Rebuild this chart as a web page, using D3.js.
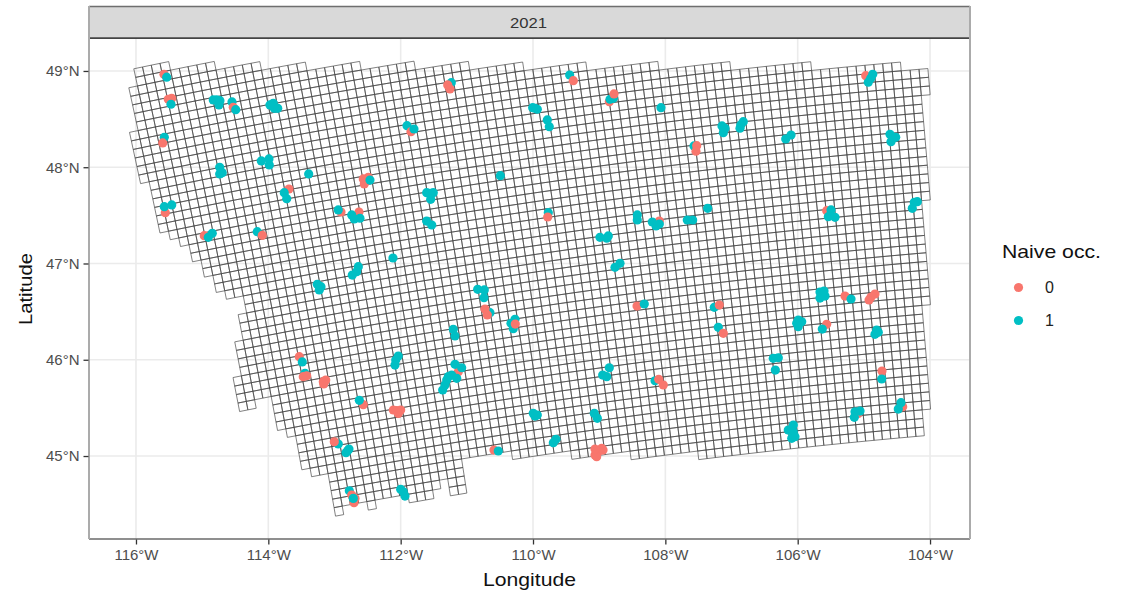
<!DOCTYPE html>
<html><head><meta charset="utf-8"><style>html,body{margin:0;background:#fff}text{font-family:"Liberation Sans",Arial,sans-serif}</style></head><body>
<svg id="c" width="1129" height="595"></svg>
<script src="https://cdn.jsdelivr.net/npm/d3@7/dist/d3.min.js"></script>
<script>
const panelLabel="2021";
const lonTicks=[-116,-114,-112,-110,-108,-106,-104];
const latTicks=[45,46,47,48,49];
const occLevels=[0,1];
const occColors=["#F8766D","#00BFC4"];
// Grid outline in 10 km Albers grid lines: [top line of row, left line]
const westEdge=[[305,-147],[304,-147],[303,-148],[302,-148],[301,-148],[300,-148],[299,-148],[298,-149],[297,-149],[296,-149],[295,-149],[294,-149],[293,-149],[292,-148],[291,-148],[290,-148],[289,-148],[288,-148],[287,-148],[286,-147],[285,-146],[284,-145],[283,-145],[282,-144],[281,-144],[280,-143],[279,-143],[278,-142],[277,-140],[276,-140],[275,-141],[274,-141],[273,-141],[272,-142],[271,-142],[270,-142],[269,-142],[268,-143],[267,-143],[266,-143],[265,-143],[264,-139],[263,-139],[262,-139],[261,-138],[260,-137],[259,-137],[258,-137],[257,-137],[256,-136],[255,-134],[254,-134],[253,-134],[252,-134],[251,-134]];
// [top line of row, right line]
const eastEdge=[[305,-143],[304,-138],[303,-133],[302,-128],[301,-122],[300,-116],[299,-110],[298,-104],[297,-97],[296,-89],[295,-81],[294,-72],[293,-62],[292,-59],[291,-59],[290,-59],[289,-60],[288,-60],[287,-60],[286,-60],[285,-60],[284,-60],[283,-60],[282,-60],[281,-60],[280,-60],[279,-60],[278,-60],[277,-61],[276,-61],[275,-61],[274,-61],[273,-61],[272,-61],[271,-61],[270,-61],[269,-61],[268,-61],[267,-61],[266,-61],[265,-62],[264,-62],[263,-62],[262,-62],[261,-62],[260,-62],[259,-62],[258,-62],[257,-62],[256,-62],[255,-62],[254,-62],[253,-63],[252,-63],[251,-63],[250,-63],[249,-63]];
// [first col, last col, bottom line]
const southEdge=[[-137,-137,256],[-136,-135,255],[-134,-134,250],[-133,-131,251],[-130,-130,250],[-129,-126,251],[-125,-123,250],[-122,-122,251],[-121,-121,252],[-120,-119,250],[-118,-113,254],[-112,-106,253],[-105,-99,252],[-98,-91,251],[-90,-83,250],[-82,-73,249],[-72,-64,248]];
// cells left out of the grid: [col, top line]
const gapCells=[[-141,265],[-140,265]];
// [lon, lat, naive occupancy], in drawing order
const siteRecords=[
[-115.577,48.966,0],[-115.536,48.935,1],[-115.512,48.706,0],[-115.460,48.716,0],[-115.471,48.654,1],[-114.780,48.699,1],[-114.832,48.699,1],[-114.731,48.691,1],[-114.746,48.647,1],[-114.549,48.678,1],[-114.530,48.623,0],[-114.493,48.598,1],[-113.975,48.647,1],[-113.910,48.612,1],[-113.858,48.612,1],[-113.925,48.664,1],[-115.572,48.311,1],[-115.596,48.252,0],[-114.735,47.999,1],[-114.735,47.930,1],[-114.696,47.943,1],[-114.106,48.065,1],[-113.990,48.086,1],[-113.985,48.023,1],[-113.390,47.930,1],[-112.565,47.878,0],[-112.550,47.826,0],[-112.489,47.896,0],[-112.464,47.867,1],[-113.688,47.774,0],[-113.759,47.736,1],[-113.722,47.673,1],[-112.902,47.535,0],[-112.943,47.556,1],[-112.630,47.535,0],[-112.740,47.504,1],[-112.701,47.462,1],[-112.615,47.470,1],[-115.557,47.528,0],[-115.572,47.590,1],[-115.460,47.608,1],[-114.968,47.289,0],[-114.847,47.314,1],[-114.907,47.272,1],[-114.167,47.330,1],[-114.091,47.293,0],[-113.260,46.784,1],[-113.230,46.725,1],[-113.204,46.759,1],[-112.640,46.967,1],[-112.665,46.915,1],[-112.731,46.880,1],[-113.532,46.032,0],[-113.487,45.977,1],[-113.446,45.859,1],[-113.472,45.824,0],[-113.420,45.834,0],[-113.169,45.772,0],[-113.133,45.789,0],[-113.163,45.748,0],[-112.565,45.533,0],[-112.625,45.579,1],[-112.060,45.471,0],[-112.000,45.478,0],[-112.036,45.443,0],[-112.111,45.478,0],[-112.943,45.125,1],[-113.003,45.148,0],[-112.781,45.073,1],[-112.826,45.034,1],[-112.801,45.055,1],[-112.000,44.654,1],[-111.960,44.629,1],[-111.935,44.584,1],[-110.590,45.062,0],[-110.525,45.052,1],[-109.970,45.415,1],[-109.996,45.443,1],[-109.935,45.426,1],[-109.653,45.173,1],[-109.693,45.138,1],[-112.776,44.639,1],[-112.740,44.595,0],[-112.690,44.560,0],[-112.705,44.515,0],[-112.716,44.560,1],[-112.116,47.057,1],[-108.988,47.272,1],[-108.886,47.262,1],[-108.862,47.286,1],[-108.685,47.002,1],[-108.761,46.960,1],[-110.836,46.732,1],[-110.736,46.725,1],[-110.741,46.645,1],[-110.650,46.489,1],[-110.726,46.527,0],[-110.691,46.465,0],[-110.272,46.420,1],[-110.333,46.379,1],[-110.298,46.322,1],[-110.268,46.371,0],[-108.428,46.558,0],[-108.318,46.579,1],[-111.205,46.316,1],[-111.179,46.247,1],[-112.036,46.039,1],[-112.075,45.997,1],[-112.086,45.945,1],[-111.129,45.876,0],[-111.179,45.953,1],[-111.078,45.917,1],[-111.153,45.807,1],[-111.229,45.841,1],[-111.280,45.824,1],[-111.304,45.789,1],[-111.330,45.738,1],[-111.365,45.686,1],[-108.847,45.917,1],[-108.947,45.841,1],[-108.886,45.824,1],[-108.156,45.782,1],[-108.100,45.797,0],[-108.031,45.738,0],[-109.074,45.443,1],[-109.028,45.392,1],[-111.235,48.878,1],[-111.289,48.855,0],[-111.255,48.813,0],[-111.904,48.432,1],[-111.844,48.369,0],[-111.799,48.397,1],[-109.970,48.612,1],[-109.935,48.602,1],[-110.005,48.619,1],[-109.784,48.491,1],[-109.754,48.421,1],[-109.446,48.958,1],[-109.391,48.899,0],[-108.847,48.681,0],[-108.836,48.706,1],[-108.787,48.716,1],[-108.776,48.761,0],[-108.066,48.619,1],[-110.494,47.912,1],[-111.557,47.729,1],[-111.607,47.736,1],[-111.507,47.736,1],[-111.546,47.667,1],[-111.607,47.441,1],[-111.531,47.400,1],[-109.769,47.528,1],[-109.778,47.483,0],[-108.424,47.504,1],[-108.424,47.452,1],[-108.091,47.441,0],[-108.197,47.431,1],[-108.141,47.390,1],[-108.091,47.410,1],[-107.144,48.429,1],[-107.098,48.405,1],[-107.124,48.359,1],[-106.822,48.473,1],[-106.861,48.439,1],[-106.872,48.405,1],[-106.101,48.335,1],[-106.181,48.293,1],[-107.567,48.221,1],[-107.526,48.224,0],[-107.537,48.166,0],[-104.972,48.951,0],[-104.866,48.966,1],[-104.896,48.924,1],[-104.933,48.883,1],[-104.605,48.342,1],[-104.519,48.311,1],[-104.590,48.265,1],[-104.238,47.636,1],[-104.268,47.573,1],[-104.192,47.642,1],[-105.562,47.549,0],[-105.496,47.556,1],[-105.537,47.486,1],[-105.436,47.480,1],[-107.360,47.573,1],[-107.668,47.452,1],[-107.587,47.452,1],[-107.260,46.545,1],[-107.185,46.569,0],[-107.200,46.337,1],[-107.124,46.275,0],[-105.991,46.413,1],[-105.939,46.395,1],[-105.991,46.343,1],[-106.015,46.379,1],[-105.562,46.368,0],[-105.628,46.319,1],[-104.806,46.309,1],[-104.832,46.264,1],[-104.782,46.285,1],[-104.892,46.652,0],[-104.922,46.621,0],[-104.832,46.683,0],[-106.369,46.015,1],[-106.293,46.021,1],[-106.338,45.893,1],[-104.726,45.883,0],[-104.730,45.800,1],[-106.066,45.322,1],[-106.142,45.270,1],[-106.066,45.252,1],[-106.090,45.184,1],[-106.041,45.200,1],[-105.084,45.443,0],[-105.134,45.460,1],[-105.058,45.467,1],[-105.144,45.402,1],[-104.413,45.512,0],[-104.439,45.554,1],[-104.480,45.488,1],[-105.663,46.704,1],[-105.587,46.662,1],[-105.663,46.641,1],[-105.602,46.714,1],[-105.285,46.662,0],[-105.194,46.631,1],[-109.013,45.045,0],[-109.063,45.010,0],[-108.962,45.080,0],[-109.038,44.993,0],[-108.942,45.062,0],[-109.063,45.073,0]];

const L={l:89,r:970,t:39,b:539};
const x=d3.scaleLinear().domain([-116.71,-103.396]).range([L.l,L.r]);
const y=d3.scaleLinear().domain([44.138,49.332]).range([L.b,L.t]);
const color=d3.scaleOrdinal(occLevels,occColors);
const svg=d3.select("#c");
const ink="#4D4D4D";

// strip
svg.append("rect").attr("x",L.l).attr("y",6.5).attr("width",L.r-L.l).attr("height",L.t-6.5).attr("fill","#D9D9D9");
svg.append("text").attr("x",(L.l+L.r)/2-1).attr("y",27.5).attr("text-anchor","middle").attr("font-size",15).attr("textLength",37).attr("lengthAdjust","spacingAndGlyphs").attr("fill","#333").text(panelLabel);

// grid lines
const g=svg.append("g");
g.selectAll(".gx").data(lonTicks).join("line").attr("x1",d=>x(d)).attr("x2",d=>x(d)).attr("y1",L.t).attr("y2",L.b).attr("stroke","#EBEBEB").attr("stroke-width",1.6);
g.selectAll(".gy").data(latTicks).join("line").attr("y1",d=>y(d)).attr("y2",d=>y(d)).attr("x1",L.l).attr("x2",L.r).attr("stroke","#EBEBEB").attr("stroke-width",1.6);

// Albers grid cells
const albers=d3.geoConicEqualArea().parallels([29.5,45.5]).rotate([96,0]).center([0,23]).scale(6371).translate([0,0]);
const westOf=new Map(westEdge),eastOf=new Map(eastEdge);
const bottomOf=new Map();southEdge.forEach(([a,b,v])=>d3.range(a,b+1).forEach(c=>bottomOf.set(c,v)));
const gaps=new Set(gapCells.map(String));
const corner=(c,t)=>{const ll=albers.invert([10*(0.9954*c-0.51),-10*(t+0.2)]);return [x(ll[0]),y(ll[1])];};
const cells=[];
westEdge.forEach(([t])=>{for(let c=westOf.get(t);c<eastOf.get(t);c++){
  const floor=bottomOf.has(c)?bottomOf.get(c):-Infinity;
  if(t-1>=floor&&!gaps.has(c+","+t))cells.push([c,t]);}});
const cellPath=([c,t])=>"M"+[corner(c,t),corner(c+1,t),corner(c+1,t-1),corner(c,t-1)].map(p=>p.map(v=>v.toFixed(2)).join(",")).join("L")+"Z";
svg.append("path").attr("d",cells.map(cellPath).join("")).attr("fill","none").attr("stroke","#444").attr("stroke-width",0.85).attr("stroke-opacity",0.8);

// sites
svg.append("g").selectAll("circle").data(siteRecords).join("circle").attr("cx",d=>x(d[0])).attr("cy",d=>y(d[1])).attr("r",4.6).attr("fill",d=>color(d[2]));

// borders
const bd=(a,b,c,d,col,w)=>svg.append("line").attr("x1",a).attr("y1",b).attr("x2",c).attr("y2",d).attr("stroke",col).attr("stroke-width",w);
bd(L.l,6.5,L.r,6.5,"#6e6e6e",1.6);
bd(L.l,38.2,L.r,38.2,"#444",1.8);
bd(L.l,L.b,L.r,L.b,"#6a6a6a",1.3);
bd(L.l,6,L.l,L.b,"#ababab",2);
bd(L.r,6,L.r,L.b,"#ababab",2);

// axes
const ax=svg.append("g").attr("transform",`translate(0,${L.b+0.5})`).call(d3.axisBottom(x).tickValues(lonTicks).tickSize(5).tickFormat(d=>Math.abs(d)+"°W"));
const ay=svg.append("g").attr("transform",`translate(${L.l-0.5},0)`).call(d3.axisLeft(y).tickValues(latTicks).tickSize(5).tickFormat(d=>d+"°N"));
[ax,ay].forEach(a=>{a.select(".domain").remove();a.selectAll("line").attr("stroke","#333").attr("stroke-width",1.3);
 a.selectAll("text").attr("font-family",'"Liberation Sans",Arial,sans-serif').attr("font-size",15).attr("fill",ink);});
ax.selectAll("text").attr("y",10);
ay.selectAll("text").attr("x",-9);

// titles
const stretched=(s,w)=>s.attr("font-size",19).attr("fill","#111").attr("textLength",w).attr("lengthAdjust","spacingAndGlyphs");
stretched(svg.append("text").attr("x",483).attr("y",586),93).text("Longitude");
stretched(svg.append("text").attr("transform","translate(32,325) rotate(-90)"),72).text("Latitude");

// legend
stretched(svg.append("text").attr("x",1002).attr("y",258),99).text("Naive occ.");
const lg=svg.append("g").selectAll("g").data(occLevels).join("g").attr("transform",(d,i)=>`translate(0,${287.5+i*33})`);
lg.append("circle").attr("cx",1018.5).attr("r",4.6).attr("fill",d=>color(d));
lg.append("text").attr("x",1045).attr("y",5.5).attr("font-size",16).attr("fill","#222").text(d=>d);
</script></body></html>
